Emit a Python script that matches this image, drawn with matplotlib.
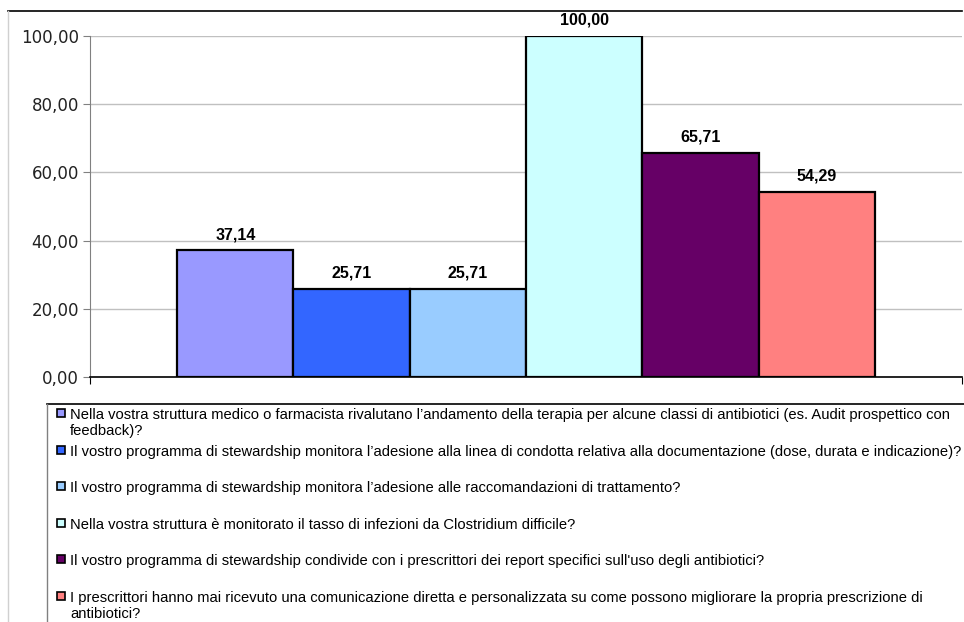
import matplotlib.pyplot as plt
from matplotlib.patches import Rectangle
from matplotlib.lines import Line2D
import numpy as np

# dati
domande = [
    "Nella vostra struttura medico o farmacista rivalutano l’andamento della terapia per alcune classi di antibiotici (es. Audit prospettico con\nfeedback)?",
    "Il vostro programma di stewardship monitora l’adesione alla linea di condotta relativa alla documentazione (dose, durata e indicazione)?",
    "Il vostro programma di stewardship monitora l’adesione alle raccomandazioni di trattamento?",
    "Nella vostra struttura è monitorato il tasso di infezioni da Clostridium difficile?",
    "Il vostro programma di stewardship condivide con i prescrittori dei report specifici sull'uso degli antibiotici?",
    "I prescrittori hanno mai ricevuto una comunicazione diretta e personalizzata su come possono migliorare la propria prescrizione di\nantibiotici?",
]
valori = [37.14, 25.71, 25.71, 100.00, 65.71, 54.29]
colori = ["#9999FF", "#3366FF", "#99CCFF", "#CCFFFF", "#660066", "#FF8080"]
y_ticks = [0, 20, 40, 60, 80, 100]

W, H = 964, 622


def fx(px):
    return px / W


def fy(py):
    return 1 - py / H


fig = plt.figure(figsize=(W / 100, H / 100), dpi=100)

# bordo esterno (tagliato)
fig.add_artist(Line2D([fx(8), fx(962)], [fy(11), fy(11)], color="black", lw=1.2))
fig.add_artist(Line2D([fx(8), fx(8)], [fy(11), 0], color="#d0d0d0", lw=1))

ax = fig.add_axes([fx(90), fy(377), fx(962) - fx(90), fy(36) - fy(377)])

n = len(valori)
bw = 0.8 / n
xs = -0.4 + bw * (np.arange(n) + 0.5)
bars = ax.bar(xs, valori, width=bw, color=colori, edgecolor="black", linewidth=1.6, zorder=3)

for x, v in zip(xs, valori):
    ax.annotate(f"{v:.2f}".replace(".", ","), (x, v), xytext=(0, 6), textcoords="offset points",
                ha="center", va="bottom", fontsize=11.5, fontweight="bold",
                family=["Liberation Sans", "DejaVu Sans"])

ax.set_xlim(-0.5, 0.5)
ax.set_ylim(0, 100)
ax.set_yticks(y_ticks)
ax.set_yticklabels([f"{t:.2f}".replace(".", ",") for t in y_ticks], fontsize=12, color="#222222")
ax.yaxis.grid(True, color="#c0c0c0", lw=1, zorder=0)
ax.set_axisbelow(True)
ax.set_xticks([-0.5, 0.5])
ax.set_xticklabels(["", ""])
ax.tick_params(axis="x", length=5, color="black")
ax.tick_params(axis="y", length=5, color="#808080", pad=3)
ax.spines["top"].set_visible(False)
ax.spines["right"].set_visible(False)
ax.spines["left"].set_color("#808080")
ax.spines["bottom"].set_color("black")
ax.spines["bottom"].set_linewidth(1.2)

# legenda disegnata a mano
fig.add_artist(Line2D([fx(47), 1], [fy(404), fy(404)], color="black", lw=1.2))
fig.add_artist(Line2D([fx(47), fx(47)], [fy(404), 0], color="#808080", lw=1))
for i, (testo, col) in enumerate(zip(domande, colori)):
    yc = 413 + i * 36.6
    fig.add_artist(Rectangle((fx(57), fy(yc + 4)), fx(8), fy(0) - fy(8),
                             facecolor=col, edgecolor="black", lw=1.2))
    fig.text(fx(70), fy(yc - 5), testo, fontsize=10.6, va="top", ha="left",
             family=["Liberation Sans", "DejaVu Sans"], linespacing=1.2)

fig.savefig("out.png", dpi=100)
